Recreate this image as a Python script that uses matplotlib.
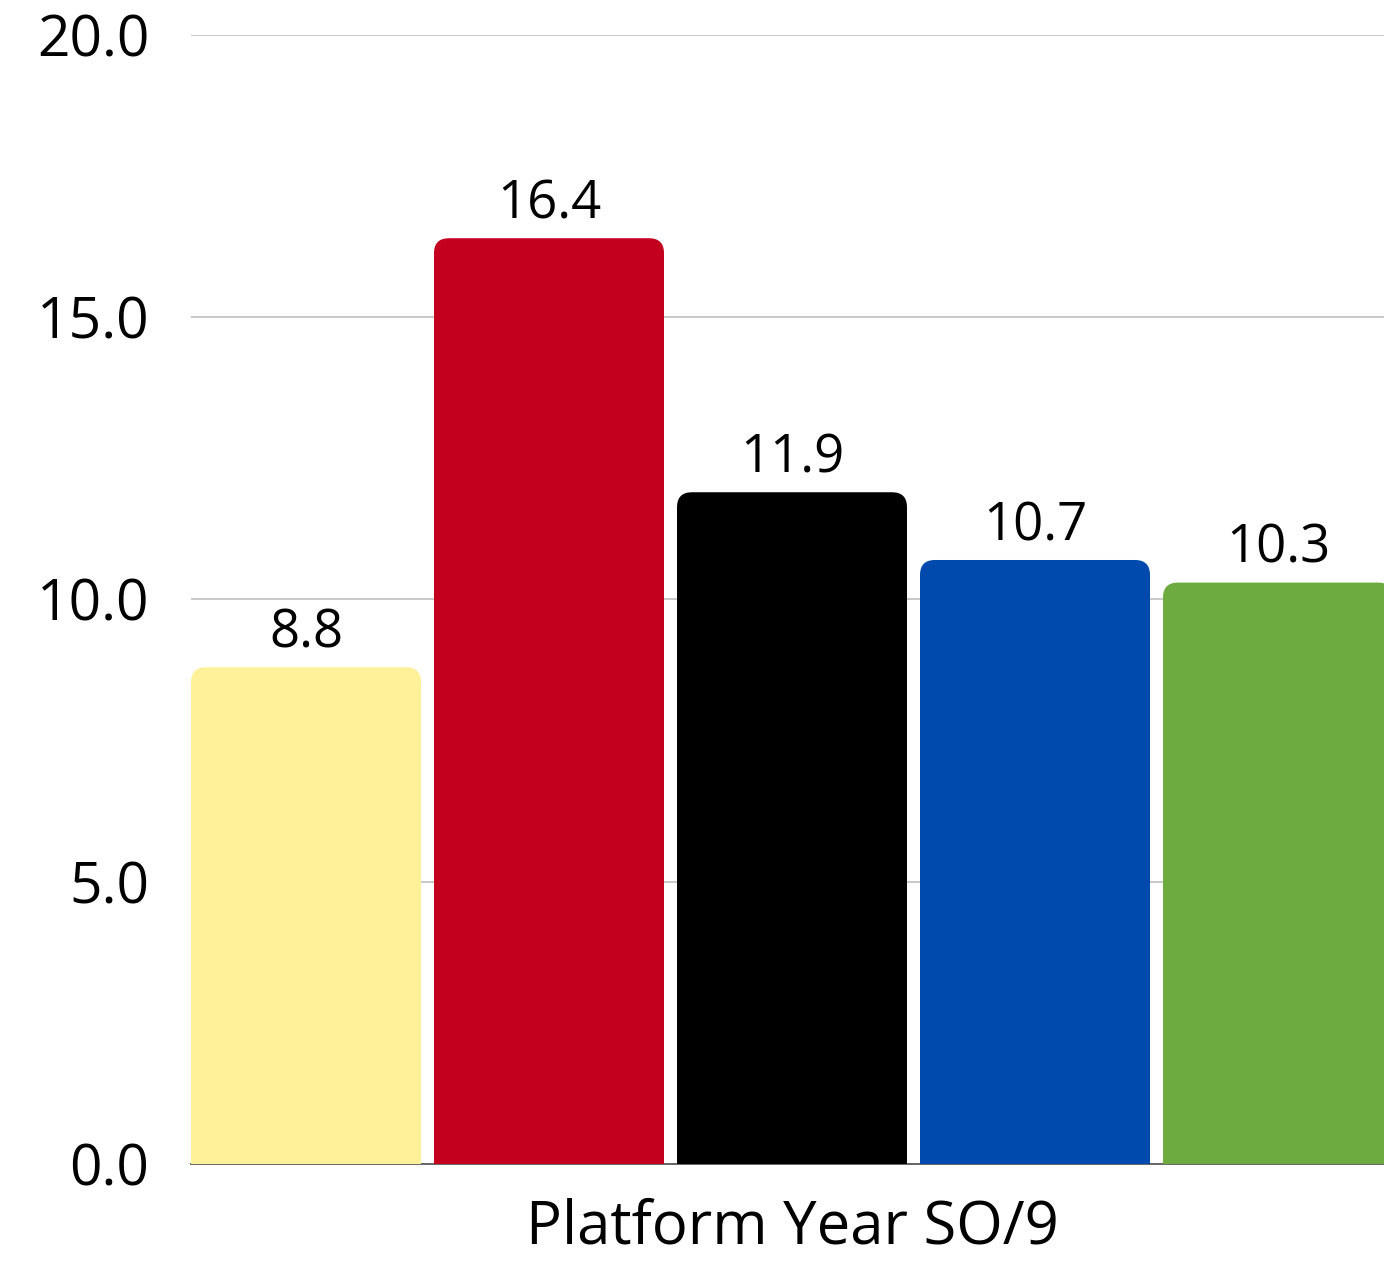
import matplotlib
matplotlib.use("Agg")
import matplotlib.pyplot as plt
from matplotlib.path import Path
from matplotlib.patches import PathPatch
import numpy as np

plt.rcParams['font.family'] = ['Open Sans', 'DejaVu Sans']

category = 'Platform Year SO/9'
values = [8.8, 16.4, 11.9, 10.7, 10.3]
colors = ['#FFF09A', '#C4001F', '#000000', '#004AAD', '#6DAA3F']
yticks = [0, 5, 10, 15, 20]

step = 243
width = 230
x = np.arange(len(values)) * step

fig = plt.figure(figsize=(6.92, 6.305), dpi=200)
ax = fig.add_axes([191 / 1384, 97 / 1261, 1 - 191 / 1384, 1129 / 1261])

bars = ax.bar(x, values, width=width, color='none')

ax.set_xlim(-width / 2, -width / 2 + 1193)
ax.set_ylim(0, 20)

# rounded top corners
rx = 15
ry = 15 * 20 / 1129
for b, c in zip(bars, colors):
    x0, y0 = b.get_x(), b.get_y()
    w, h = b.get_width(), b.get_height()
    verts = [
        (x0, y0), (x0, y0 + h - ry), (x0, y0 + h), (x0 + rx, y0 + h),
        (x0 + w - rx, y0 + h), (x0 + w, y0 + h), (x0 + w, y0 + h - ry),
        (x0 + w, y0), (x0, y0),
    ]
    codes = [Path.MOVETO, Path.LINETO, Path.CURVE3, Path.CURVE3,
             Path.LINETO, Path.CURVE3, Path.CURVE3, Path.LINETO, Path.CLOSEPOLY]
    ax.add_patch(PathPatch(Path(verts, codes), facecolor=c, edgecolor='none', zorder=3))
    ax.annotate(f'{b.get_height():.1f}', (x0 + w / 2, y0 + h), xytext=(0, 2.5),
                textcoords='offset points', ha='center', va='bottom', fontsize=19)

ax.set_yticks(yticks)
ax.set_yticklabels([f'{t:.1f}' for t in yticks])
ax.grid(axis='y', color='#C8C8C8', linewidth=0.7, zorder=0)
ax.set_axisbelow(True)
ax.tick_params(axis='y', length=0, pad=15, labelsize=20.5)
ax.set_xticks([x[2]])
ax.set_xticklabels([category])
ax.tick_params(axis='x', length=0, pad=12, labelsize=21.5)

for s in ['top', 'right', 'left']:
    ax.spines[s].set_visible(False)
ax.spines['bottom'].set_color('#666666')
ax.spines['bottom'].set_linewidth(0.7)

fig.savefig('out.png', dpi=200)
